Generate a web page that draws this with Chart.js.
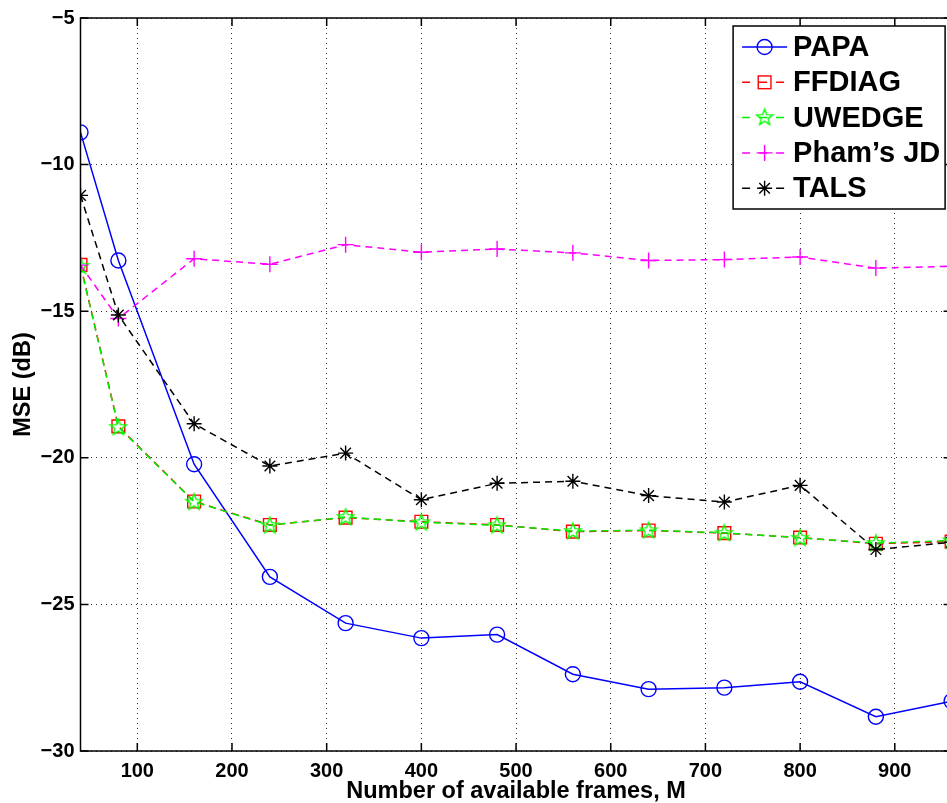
<!DOCTYPE html>
<html>
<head>
<meta charset="utf-8">
<script src="https://cdn.jsdelivr.net/npm/chart.js@4/dist/chart.umd.min.js"></script>
<style>
  html, body { margin: 0; padding: 0; background: #fff; overflow: hidden; }
  #wrap { width: 962px; height: 803px; position: relative; }
</style>
</head>
<body>
<div id="wrap"><canvas id="chart"></canvas></div>
<script>
// number of frames M
const frames = [40, 80, 160, 240, 320, 400, 480, 560, 640, 720, 800, 880, 960];

// MSE in dB for each method
const papa   = [-8.9, -13.27, -20.22, -24.06, -25.64, -26.15, -26.03, -27.38, -27.89, -27.84, -27.64, -28.83, -28.3];
const ffdiag = [-13.42, -18.93, -21.49, -22.29, -22.04, -22.18, -22.29, -22.52, -22.48, -22.57, -22.72, -22.93, -22.86];
const uwedge = [-13.45, -18.95, -21.5, -22.3, -22.02, -22.2, -22.3, -22.5, -22.47, -22.56, -22.73, -22.91, -22.82];
const pham   = [-13.43, -15.25, -13.21, -13.4, -12.73, -12.99, -12.88, -13.01, -13.27, -13.24, -13.15, -13.53, -13.47];
const tals   = [-11.05, -15.13, -18.84, -20.28, -19.84, -21.43, -20.87, -20.8, -21.29, -21.51, -20.94, -23.13, -22.88];

const xTicks = [100, 200, 300, 400, 500, 600, 700, 800, 900];
const yTicks = [-30, -25, -20, -15, -10, -5];

const FONT = '"Liberation Sans", Arial, Helvetica, sans-serif';

function pentagram(ctx, cx, cy, r) {
  ctx.beginPath();
  for (let i = 0; i < 10; i++) {
    const rad = i % 2 ? r * 0.42 : r;
    const a = -Math.PI / 2 + i * Math.PI / 5;
    const px = cx + rad * Math.cos(a), py = cy + rad * Math.sin(a);
    i ? ctx.lineTo(px, py) : ctx.moveTo(px, py);
  }
  ctx.closePath();
  ctx.stroke();
}

// canvas used as the UWEDGE point style
const starImg = document.createElement('canvas');
starImg.width = 20; starImg.height = 20;
(function () {
  const c = starImg.getContext('2d');
  c.strokeStyle = '#00ff00';
  c.lineWidth = 1.4;
  pentagram(c, 10, 10.5, 8.5);
})();

function toPts(ys) {
  return ys.map((v, i) => ({ x: frames[i], y: v }));
}

const series = [
  { label: 'PAPA', data: papa, color: '#0000ff', style: 'circle', r: 7.5, dash: [] },
  { label: 'FFDIAG', data: ffdiag, color: '#ff0000', style: 'rect', r: 9, dash: [7, 5] },
  { label: 'UWEDGE', data: uwedge, color: '#00ee00', style: starImg, r: 8, dash: [7, 5] },
  { label: 'Pham\u2019s JD', data: pham, color: '#ff00ff', style: 'cross', r: 8, dash: [7, 5] },
  { label: 'TALS', data: tals, color: '#000000', style: 'star', r: 7.5, dash: [7, 5] }
];

function marker(ctx, s, x, y) {
  ctx.save();
  ctx.strokeStyle = s.color;
  ctx.lineWidth = 1.4;
  ctx.setLineDash([]);
  ctx.beginPath();
  if (s.style === 'circle') {
    ctx.arc(x, y, s.r, 0, Math.PI * 2);
    ctx.stroke();
  } else if (s.style === 'rect') {
    const h = s.r * Math.SQRT1_2;
    ctx.strokeRect(x - h, y - h, h * 2, h * 2);
  } else if (s.style === 'cross') {
    ctx.moveTo(x - s.r, y); ctx.lineTo(x + s.r, y);
    ctx.moveTo(x, y - s.r); ctx.lineTo(x, y + s.r);
    ctx.stroke();
  } else if (s.style === 'star') {
    for (let k = 0; k < 4; k++) {
      const a = k * Math.PI / 4;
      ctx.moveTo(x - s.r * Math.cos(a), y - s.r * Math.sin(a));
      ctx.lineTo(x + s.r * Math.cos(a), y + s.r * Math.sin(a));
    }
    ctx.stroke();
  } else {
    ctx.drawImage(s.style, x - 10, y - 10.5);
  }
  ctx.restore();
}

// axes box, inward ticks and the legend
const framePlugin = {
  id: 'frame',
  afterDraw(chart) {
    const { ctx, chartArea: a, scales: { x, y } } = chart;
    ctx.save();
    ctx.strokeStyle = '#000';
    ctx.lineWidth = 1.5;
    ctx.setLineDash([]);
    ctx.strokeRect(a.left, a.top, a.right - a.left, a.bottom - a.top);
    ctx.beginPath();
    xTicks.forEach(v => {
      const px = x.getPixelForValue(v);
      ctx.moveTo(px, a.bottom); ctx.lineTo(px, a.bottom - 8);
      ctx.moveTo(px, a.top); ctx.lineTo(px, a.top + 8);
    });
    yTicks.forEach(v => {
      const py = y.getPixelForValue(v);
      ctx.moveTo(a.left, py); ctx.lineTo(a.left + 8, py);
      ctx.moveTo(a.right, py); ctx.lineTo(a.right - 8, py);
    });
    ctx.stroke();

    // legend box
    const bw = 212, bh = 183;
    const bx = a.right - 6.5 - bw, by = a.top + 8;
    ctx.fillStyle = '#fff';
    ctx.fillRect(bx, by, bw, bh);
    ctx.lineWidth = 1.5;
    ctx.strokeRect(bx, by, bw, bh);
    ctx.font = 'bold 29px ' + FONT;
    ctx.textBaseline = 'middle';
    ctx.textAlign = 'left';
    series.forEach((s, i) => {
      const ry = by + 21 + i * 35.3;
      ctx.strokeStyle = s.color;
      ctx.lineWidth = 1.5;
      ctx.setLineDash(s.dash.length ? [8, 9] : []);
      ctx.beginPath();
      ctx.moveTo(bx + 9, ry); ctx.lineTo(bx + 54, ry);
      ctx.stroke();
      marker(ctx, s, bx + 31.5, ry);
      ctx.fillStyle = '#000';
      ctx.fillText(s.label, bx + 60, ry + 1);
    });
    ctx.restore();
  }
};

new Chart(document.getElementById('chart'), {
  type: 'line',
  data: {
    datasets: series.map((s, i) => ({
      label: s.label,
      data: toPts(s.data),
      borderColor: s.color,
      borderWidth: 1.5,
      borderDash: s.dash,
      pointStyle: s.style,
      pointRadius: s.r,
      pointBorderColor: s.color,
      pointBorderWidth: 1.4,
      pointBackgroundColor: 'rgba(0,0,0,0)',
      tension: 0,
      fill: false,
      order: series.length - i
    }))
  },
  options: {
    responsive: true,
    maintainAspectRatio: false,
    animation: false,
    layout: { padding: { top: 16, right: 7.5, left: 0, bottom: 0 } },
    plugins: { legend: { display: false }, tooltip: { enabled: false } },
    scales: {
      x: {
        type: 'linear',
        min: 40,
        max: 960,
        afterBuildTicks: sc => { sc.ticks = xTicks.map(v => ({ value: v })); },
        afterFit: sc => { sc.height = 52; },
        grid: { color: '#333', lineWidth: 1, drawTicks: false },
        border: { display: false, dash: [1, 4] },
        ticks: { color: '#000', padding: 8, maxRotation: 0, font: { family: FONT, size: 20, weight: 'bold' } },
        title: {
          display: true,
          text: 'Number of available frames, M',
          color: '#000',
          padding: { top: 0, bottom: -3 },
          font: { family: FONT, size: 23.5, weight: 'bold' }
        }
      },
      y: {
        min: -30,
        max: -5,
        afterBuildTicks: sc => { sc.ticks = yTicks.map(v => ({ value: v })); },
        afterFit: sc => { sc.width = 80.5; },
        grid: { color: '#333', lineWidth: 1, drawTicks: false },
        border: { display: false, dash: [1, 4] },
        ticks: {
          color: '#000',
          padding: 6,
          font: { family: FONT, size: 20, weight: 'bold' },
          callback: v => (v < 0 ? '\u2212' + Math.abs(v) : String(v))
        },
        title: {
          display: true,
          text: 'MSE (dB)',
          color: '#000',
          padding: 9,
          font: { family: FONT, size: 23.5, weight: 'bold' }
        }
      }
    }
  },
  plugins: [framePlugin]
});
</script>
</body>
</html>
